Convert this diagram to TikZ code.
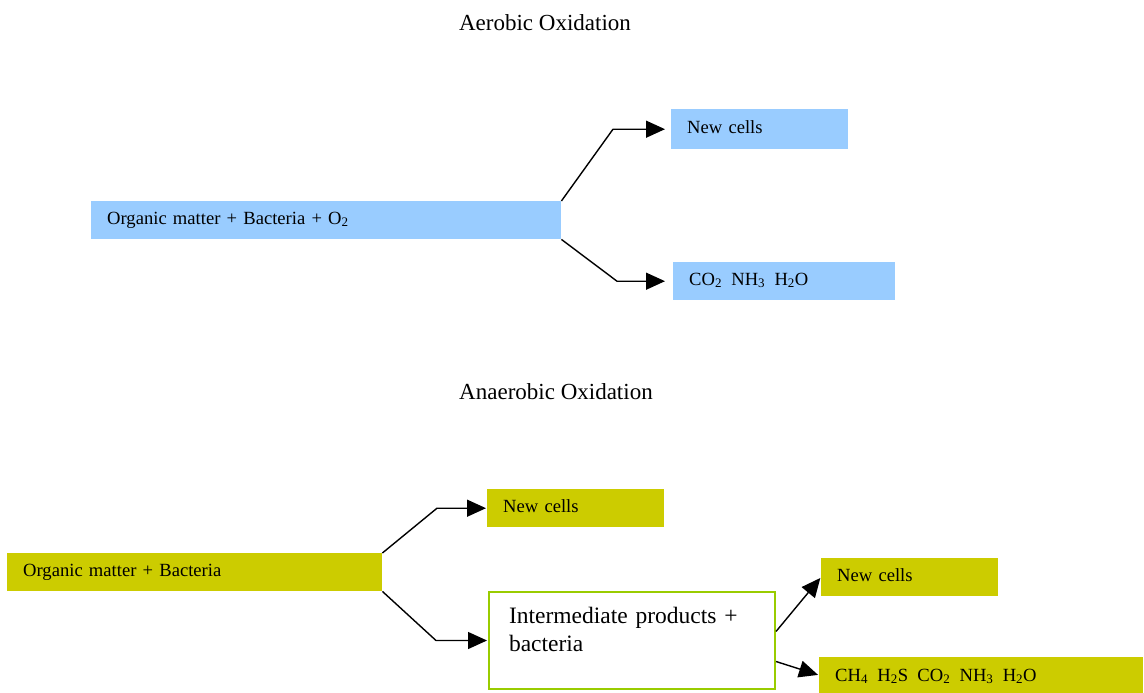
\documentclass[tikz,border=0pt]{standalone}
\usepackage{fontspec}
\setmainfont{Liberation Serif}
\usetikzlibrary{arrows.meta}
\definecolor{skyfill}{HTML}{99CCFF}
\definecolor{olivefill}{HTML}{CCCC00}
\definecolor{limeedge}{HTML}{99CC00}
\newcommand{\sbs}[1]{\textsubscript{#1}}
\newcommand{\gap}{\hspace{0.5em}}
\begin{document}
\begin{tikzpicture}[x=1pt,y=-1pt,
  box/.style={rectangle, anchor=north west, inner ysep=0pt, inner xsep=16pt,
    align=left, font=\fontsize{18.6}{22}\selectfont,
    text height=23pt, text depth=15pt},
  skybox/.style={box, fill=skyfill},
  olivebox/.style={box, fill=olivefill},
  title/.style={anchor=base, font=\fontsize{23}{27}\selectfont},
  link/.style={line width=1.4pt, line join=round,
    -{Triangle[length=19pt,width=17pt]}}
]
\useasboundingbox (0,0) rectangle (1144,693);

% ---- aerobic branch ----
\node[title] (t1) at (545,31) {Aerobic Oxidation};
\node[skybox, text width=438pt] (A) at (91,201)
  {Organic matter + Bacteria + O\sbs{2}};
\node[skybox, text width=145pt, text height=24pt, text depth=16pt] (B) at (671,109)
  {New cells};
\node[skybox, text width=190pt] (C) at (673,262)
  {CO\sbs{2}\gap NH\sbs{3}\gap H\sbs{2}O};

\draw[link, shorten >=6pt] (A.north east) -- ([xshift=-58pt]B.west) -- (B.west);
\draw[link, shorten >=8pt] (A.south east) -- ([xshift=-56pt]C.west) -- (C.west);

% ---- anaerobic branch ----
\node[title] (t2) at (556,399) {Anaerobic Oxidation};
\node[olivebox, text width=343pt] (D) at (7,553) {Organic matter + Bacteria};
\node[olivebox, text width=145pt] (E) at (487,489) {New cells};
\node[rectangle, anchor=north west, draw=limeedge, line width=2pt, fill=white,
  inner ysep=0pt, inner xsep=20pt, text width=246pt, align=left,
  font=\fontsize{23.5}{28}\selectfont, text height=31pt, text depth=66pt]
  (F) at (488,591) {Intermediate products +\\bacteria};
\node[olivebox, text width=145pt] (G) at (821,558) {New cells};
\node[olivebox, text width=292pt, text height=24pt, text depth=12pt] (H) at (819,657)
  {CH\sbs{4}\gap H\sbs{2}S\gap CO\sbs{2}\gap NH\sbs{3}\gap H\sbs{2}O};

\draw[link, shorten >=1pt] (D.north east) -- ([xshift=-50pt]E.west) -- (E.west);
\draw[link, shorten >=1pt] (D.south east) -- ([xshift=-52pt]F.west) -- (F.west);
\draw[link, shorten >=1pt] ([yshift=9pt]F.east) -- (G.west);
\draw[link, shorten >=1pt] ([yshift=-21pt]F.east) -- (H.west);
\end{tikzpicture}
\end{document}
